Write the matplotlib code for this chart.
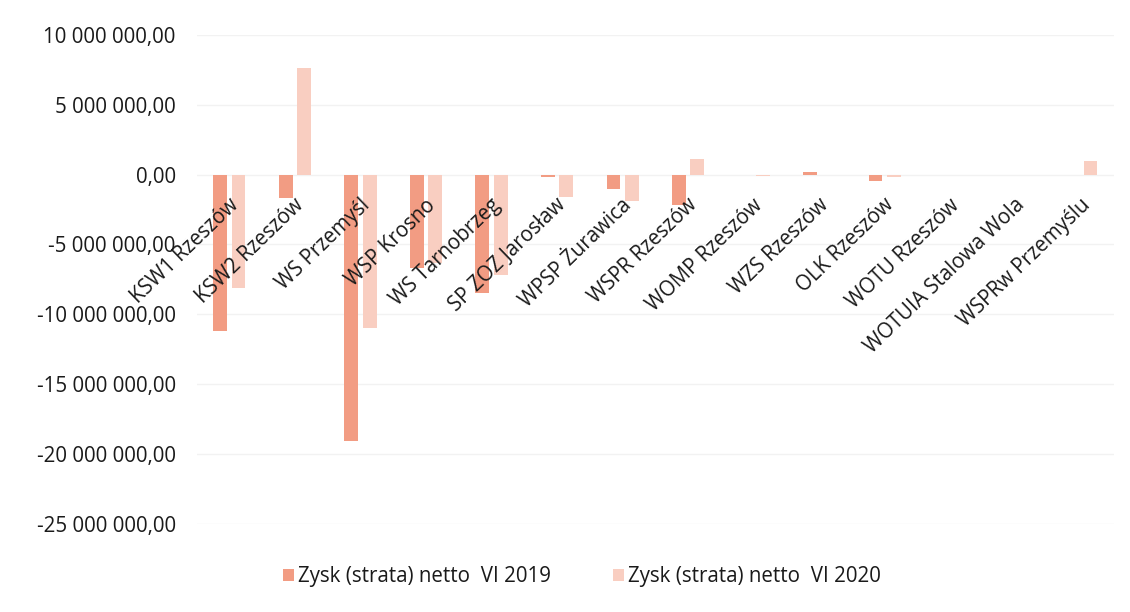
import matplotlib
matplotlib.use('Agg')
import matplotlib.pyplot as plt
import matplotlib.transforms as mtransforms
import numpy as np
from matplotlib.ticker import FuncFormatter

plt.rcParams['font.family'] = ['Open Sans', 'DejaVu Sans']

categories = ['KSW1 Rzeszów', 'KSW2 Rzeszów', 'WS Przemyśl', 'WSP Krosno', 'WS Tarnobrzeg',
              'SP ZOZ Jarosław', 'WPSP Żurawica', 'WSPR Rzeszów', 'WOMP Rzeszów', 'WZS Rzeszów',
              'OLK Rzeszów', 'WOTU Rzeszów', 'WOTUIA Stalowa Wola', 'WSPRw Przemyślu']
zysk_2019 = [-11200000, -1700000, -19100000, -6700000, -8500000,
             -200000, -1000000, -2200000, 0, 200000,
             -450000, 0, 0, 0]
zysk_2020 = [-8100000, 7600000, -11000000, -6300000, -7200000,
             -1600000, -1900000, 1100000, -100000, 0,
             -200000, 0, 0, 1000000]
label_2019 = 'Zysk (strata) netto  VI 2019'
label_2020 = 'Zysk (strata) netto  VI 2020'

col_2019 = '#f29c83'
col_2020 = '#f9cec1'
txt_col = '#1a1a1a'

fig = plt.figure(figsize=(11.3, 6.12), dpi=100)
ax = fig.add_axes([0.174, 0.144, 0.812, 0.799])

x = np.arange(len(categories))
w = 0.21
ax.bar(x - 0.14, zysk_2019, w, color=col_2019, label=label_2019, zorder=2)
ax.bar(x + 0.14, zysk_2020, w, color=col_2020, label=label_2020, zorder=2)

ax.set_ylim(-25000000, 10000000)
ax.set_xlim(-0.5, len(categories) - 0.5)
ax.set_yticks(np.arange(-25000000, 10000001, 5000000))


def fmt(v, pos):
    s = '{:,.2f}'.format(v).replace(',', ' ').replace('.', ',')
    return s


ax.yaxis.set_major_formatter(FuncFormatter(fmt))
ax.grid(axis='y', color='#f2f2f2', linewidth=1)
for s in ax.spines.values():
    s.set_visible(False)
ax.tick_params(axis='both', length=0, labelsize=14.8, colors=txt_col)
ax.tick_params(axis='y', pad=15)
ax.set_xticks([])

# category labels on top of the bars, next to the zero line
off = mtransforms.offset_copy(ax.transData, fig=fig, x=0, y=-20, units='dots')
for i, name in enumerate(categories):
    ax.text(x[i] - 0.02, 0, name, transform=off, rotation=44, ha='right', va='top',
            rotation_mode='anchor', fontsize=14.8, color=txt_col, zorder=5)

fig.legend(loc='lower center', bbox_to_anchor=(0.515, 0.01), ncol=2, frameon=False,
           fontsize=14.8, handlelength=0.55, handleheight=0.55, handletextpad=0.2,
           columnspacing=3.0, labelcolor=txt_col)

fig.savefig('out.png', dpi=100)
